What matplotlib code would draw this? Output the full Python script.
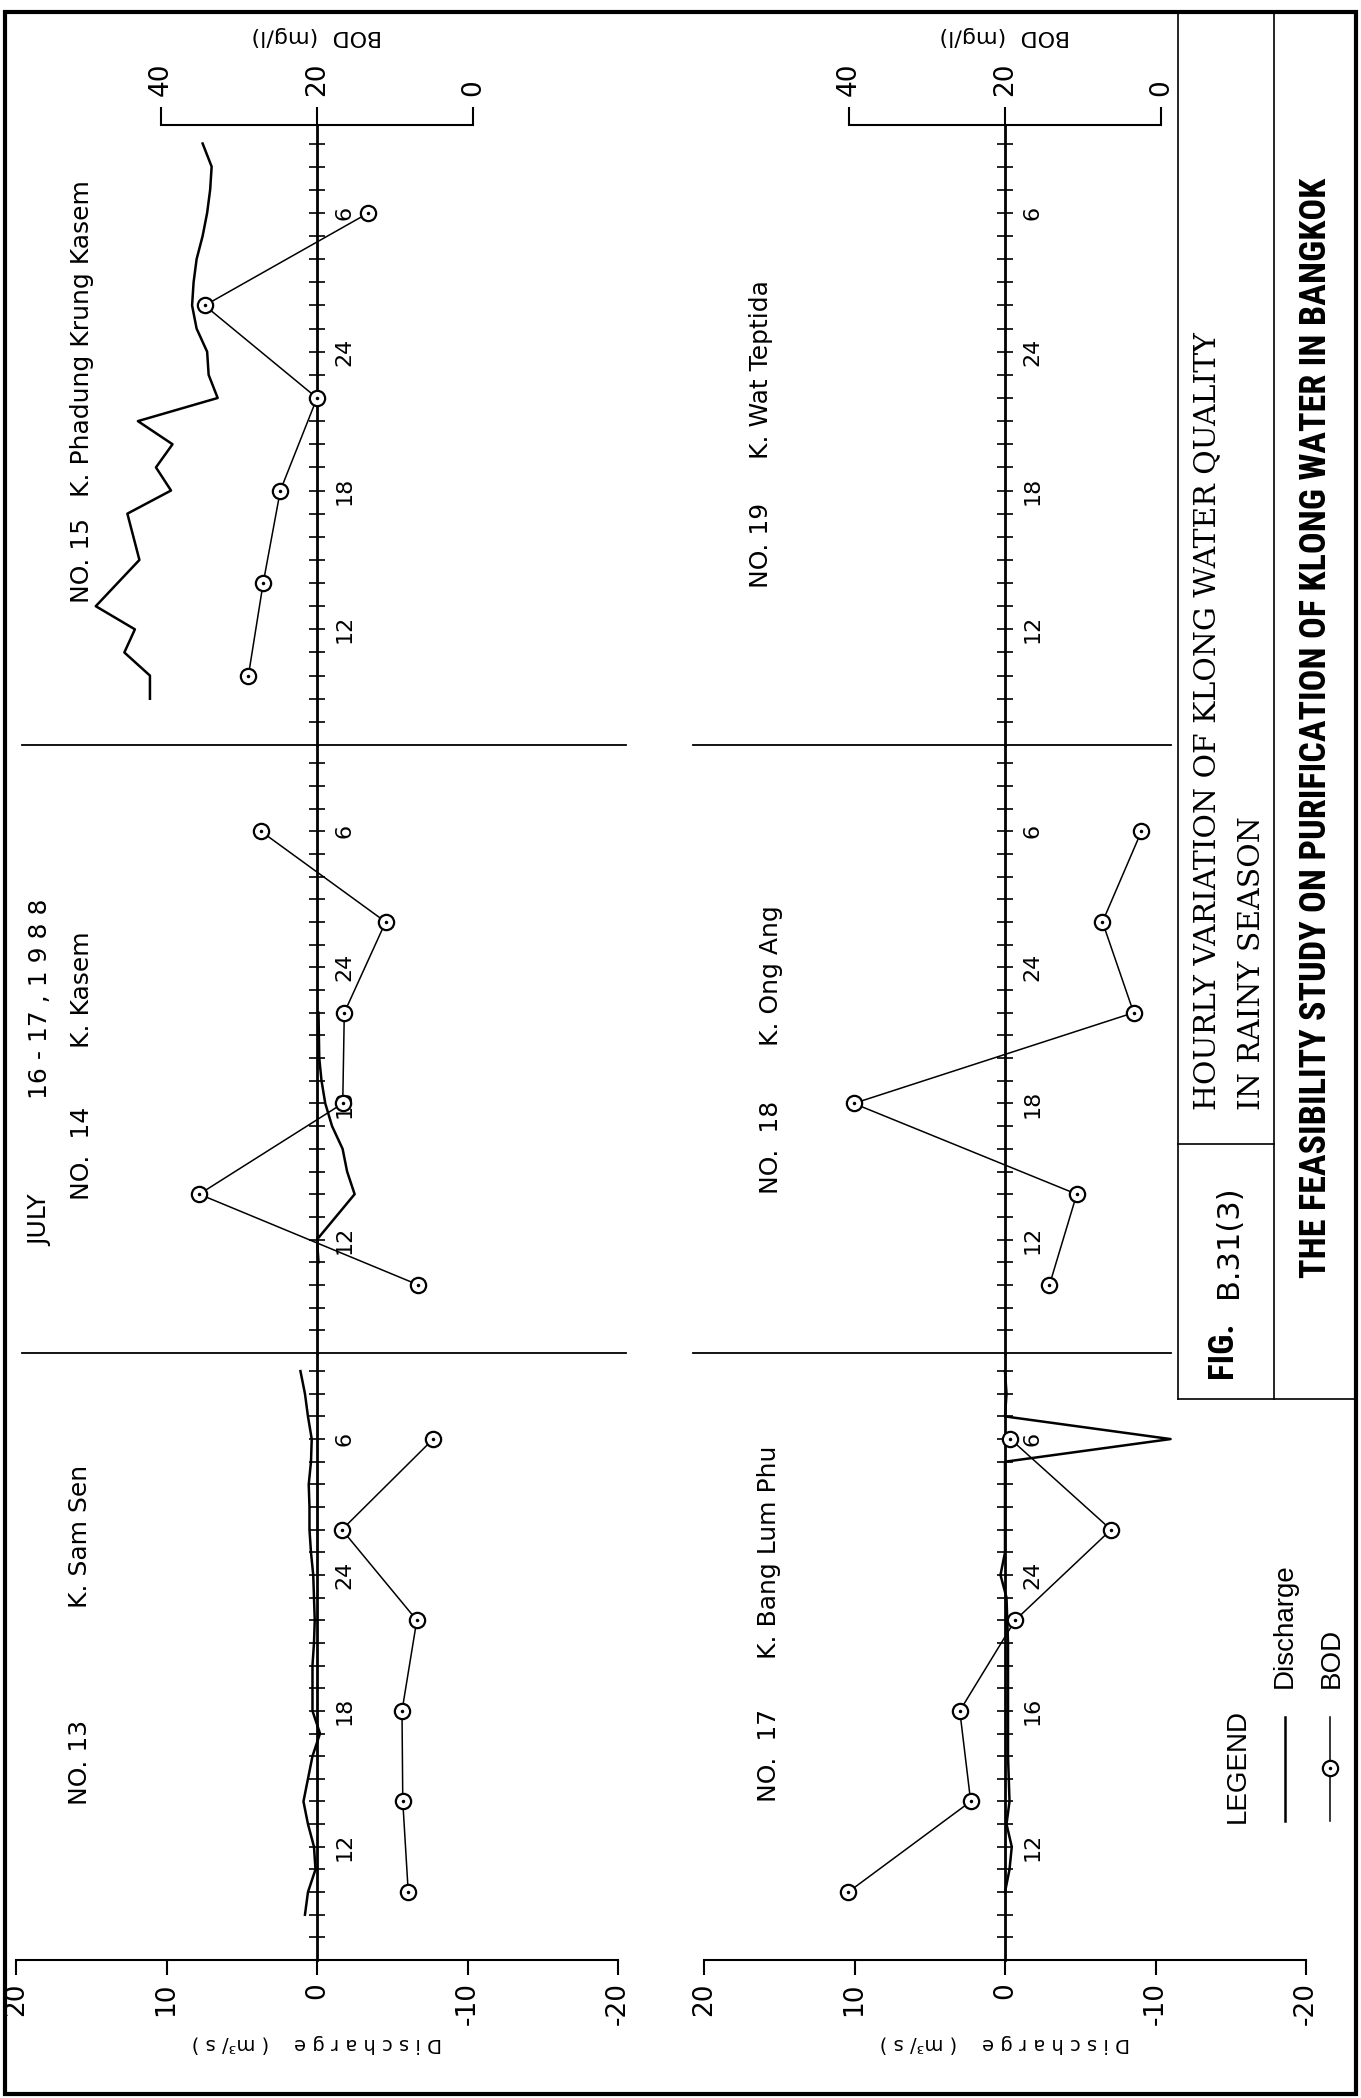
import matplotlib.pyplot as plt
from matplotlib.lines import Line2D
from matplotlib.patches import Rectangle

plt.rcParams['font.family'] = ['DejaVu Sans']

W, H = 1361, 2098

# hours of the day, 24 = midnight, 30 = 6 a.m. on July 17
bod_hours = [10, 14, 18, 22, 26, 30]

bod_13 = [8.3, 9.0, 9.1, 7.2, 16.8, 5.1]
bod_14 = [7.0, 35.1, 16.7, 16.5, 11.2, 27.2]
bod_15 = [28.8, 26.9, 24.7, 20.0, 34.4, 13.4]
bod_17 = [40.1, 24.4, 25.8, 18.7, 6.4, 19.3]
bod_18 = [14.3, 10.8, 39.4, 3.5, 7.5, 2.5]

q13_hours = list(range(9, 34))
q13 = [0.8, 0.6, 0.1, 0.2, 0.6, 0.9, 0.6, 0.3, -0.2, 0.3, 0.3, 0.3, 0.2,
       0.15, 0.2, 0.25, 0.4, 0.5, 0.5, 0.55, 0.4, 0.35, 0.6, 0.8, 1.1]
q14_hours = [11, 12, 14, 15, 16, 17, 18, 19, 20, 22]
q14 = [-0.1, 0.0, -2.5, -2.0, -1.7, -1.0, -0.55, -0.3, -0.15, -0.1]
q15_hours = [9, 10, 11, 12, 13, 15, 17, 18, 19, 20, 21, 22, 23, 24, 25, 26,
             27, 28, 29, 30, 31, 32, 33]
q15 = [11.1, 11.1, 12.8, 12.1, 14.7, 11.8, 12.6, 9.7, 10.7, 9.6, 11.9, 6.6,
       7.2, 7.3, 8.0, 8.3, 8.2, 8.0, 7.6, 7.3, 7.1, 7.0, 7.6]
q17_hours = [10, 11, 12, 13, 14, 16, 18, 21, 23, 24, 25, 28, 29, 30, 31, 32, 33]
q17 = [0.0, -0.3, -0.45, -0.1, -0.3, -0.2, -0.2, -0.2, -0.1, 0.3, 0.0, 0.0,
       0.0, -11.0, 0.0, -0.1, 0.0]

time_ticks = [12, 18, 24, 30]
time_labels = ['12', '18', '24', '6']
time_labels_17 = ['12', '16', '24', '6']
q_ticks = [20, 10, 0, -10, -20]
q_labels = ['20', '10', '0', '-10', '-20']
bod_ticks = [40, 20, 0]
bod_labels = ['40', '20', '0']

# page geometry in pixels of the 1361x2098 sheet
PX_Q = 15.05          # px per m3/s
Q_LIM = 20.5
BOD_PER_Q = 1.93      # 20 mg/l on the BOD scale spans ~10.4 m3/s
rows = [(125, 745), (745, 1353), (1353, 1960)]
col_x = [317, 1005]
sep_bounds = [(-20.5, 19.6), (-11.0, 20.7)]

fig = plt.figure(figsize=(W / 100, H / 100), dpi=100)


def fx(x):
    return x / W


def fy(y):
    return 1 - y / H


def fline(x1, y1, x2, y2, lw=1.2):
    fig.add_artist(Line2D([fx(x1), fx(x2)], [fy(y1), fy(y2)],
                          transform=fig.transFigure, color='black', lw=lw))


def panel(col, row, q_hours, q_vals, bod_vals, tlabels):
    top, bot = rows[row]
    c = col_x[col]
    ax = fig.add_axes([fx(c - Q_LIM * PX_Q), fy(bot),
                       2 * Q_LIM * PX_Q / W, (bot - top) / H])
    ax.patch.set_alpha(0)
    ax.set_xlim(Q_LIM, -Q_LIM)
    ax.set_ylim(7, 33.8)
    ax.spines['left'].set_visible(False)
    ax.spines['right'].set_position(('data', 0))
    ax.spines['right'].set_linewidth(2)
    ax.yaxis.set_ticks_position('right')
    ax.set_yticks(time_ticks, labels=tlabels)
    ax.set_yticks(range(8, 34), minor=True)
    ax.tick_params(axis='y', which='both', direction='inout', length=11,
                   width=1.2, labelsize=16, labelrotation=90, pad=7)
    for lb in ax.get_yticklabels():
        lb.set_va('center')

    if row == 0:
        ax.spines['top'].set_visible(False)
    else:
        ax.spines['top'].set_bounds(*sep_bounds[col])
        ax.spines['top'].set_linewidth(1.3)
    if row == 2:
        ax.spines['bottom'].set_bounds(-20, 20)
        ax.spines['bottom'].set_linewidth(1.5)
        ax.set_xticks(q_ticks, labels=q_labels)
        ax.tick_params(axis='x', direction='out', length=11, width=1.5,
                       labelsize=19, labelrotation=90, pad=5)
        ax.set_xlabel('D i s c h a r g e    ( m³/ s )', rotation=180,
                      fontsize=14, labelpad=6)
    else:
        ax.spines['bottom'].set_visible(False)
        ax.set_xticks([])

    axb = ax.twiny()
    axb.set_xlim(20 + Q_LIM * BOD_PER_Q, 20 - Q_LIM * BOD_PER_Q)
    for sp in axb.spines.values():
        sp.set_visible(False)
    if row == 0:
        axb.spines['top'].set_visible(True)
        axb.spines['top'].set_bounds(0, 40)
        axb.spines['top'].set_linewidth(1.5)
        axb.set_xticks(bod_ticks, labels=bod_labels)
        axb.tick_params(axis='x', direction='out', length=13, width=1.5,
                        labelsize=19, labelrotation=90, pad=8)
        axb.set_xlabel('BOD  (mg/l)', rotation=180, fontsize=16, labelpad=15)
    else:
        axb.set_xticks([])

    if q_vals is not None:
        ax.plot(q_vals, q_hours, color='black', lw=1.8)
    if bod_vals is not None:
        axb.plot(bod_vals, bod_hours, color='black', lw=1.1, marker='o',
                 ms=11, mfc='white', mec='black', mew=1.6)
        axb.plot(bod_vals, bod_hours, ls='none', marker='.', ms=3,
                 color='black')
    return ax


panel(0, 2, q13_hours, q13, bod_13, time_labels)
panel(0, 1, q14_hours, q14, bod_14, time_labels)
panel(0, 0, q15_hours, q15, bod_15, time_labels)
panel(1, 2, q17_hours, q17, bod_17, time_labels_17)
panel(1, 1, None, None, bod_18, time_labels)
panel(1, 0, None, None, None, time_labels)

# station names
station_text = [
    (80, 1805, 'NO. 13'), (80, 1608, 'K. Sam Sen'),
    (40, 1246, 'JULY'), (40, 1099, '16 - 17 , 1 9 8 8'),
    (82, 1200, 'NO.  14'), (82, 1048, 'K. Kasem'),
    (82, 603, 'NO. 15'), (82, 497, 'K. Phadung Krung Kasem'),
    (769, 1802, 'NO.  17'), (769, 1659, 'K. Bang Lum Phu'),
    (771, 1194, 'NO.  18'), (771, 1046, 'K. Ong Ang'),
    (761, 588, 'NO. 19'), (761, 459, 'K. Wat Teptida'),
]
for x, y, s in station_text:
    fig.text(fx(x), fy(y), s, rotation=90, ha='center', va='bottom',
             fontsize=18)

# frame and title block
fig.add_artist(Rectangle((fx(5), fy(2094)), (1356 - 5) / W, (2094 - 12) / H,
                         transform=fig.transFigure, fill=False, lw=3,
                         color='black'))
fline(1178, 12, 1178, 1399)
fline(1274, 12, 1274, 1399)
fline(1178, 1144, 1274, 1144)
fline(1178, 1399, 1356, 1399)

bold_narrow = ['Liberation Sans Narrow', 'Roboto Condensed', 'Liberation Sans']
fig.text(fx(1207), fy(1110), 'HOURLY VARIATION OF KLONG WATER QUALITY',
         rotation=90, ha='center', va='bottom', family='DejaVu Serif',
         fontsize=21.5)
fig.text(fx(1252), fy(1110), 'IN RAINY SEASON', rotation=90, ha='center',
         va='bottom', family='DejaVu Serif', fontsize=21.5)
fig.text(fx(1316), fy(1278),
         'THE FEASIBILITY STUDY ON PURIFICATION OF KLONG WATER IN BANGKOK',
         rotation=90, ha='center', va='bottom', family=bold_narrow,
         weight='bold', fontsize=26)
fig.text(fx(1222), fy(1378), 'FIG.', rotation=90, ha='center', va='bottom',
         family=bold_narrow, weight='bold', fontsize=25)
fig.text(fx(1228), fy(1298), 'B.31(3)', rotation=90, ha='center', va='bottom',
         fontsize=22)

# legend
fig.text(fx(1238), fy(1823), 'LEGEND', rotation=90, ha='center', va='bottom',
         family='Liberation Sans', fontsize=20)
fline(1285, 1717, 1285, 1821, lw=1.8)
fig.text(fx(1285), fy(1688), 'Discharge', rotation=90, ha='center',
         va='bottom', family='Liberation Sans', fontsize=20)
fline(1330, 1717, 1330, 1821, lw=1.1)
fig.add_artist(Line2D([fx(1330)], [fy(1768)], marker='o', ms=11, mfc='white',
                      mec='black', mew=1.6, transform=fig.transFigure))
fig.add_artist(Line2D([fx(1330)], [fy(1768)], marker='.', ms=3,
                      color='black', transform=fig.transFigure))
fig.text(fx(1332), fy(1688), 'BOD', rotation=90, ha='center', va='bottom',
         family='Liberation Sans', fontsize=20)

fig.savefig('out.png', dpi=100)
